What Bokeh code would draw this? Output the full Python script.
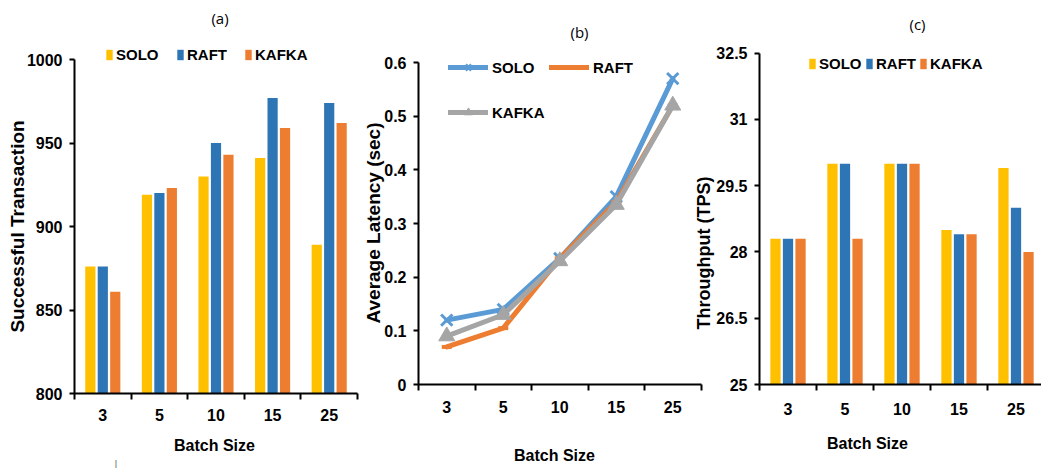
import math
from bokeh.plotting import figure
from bokeh.models import Range1d, FixedTicker, Legend, LegendItem, Label, LinearAxis
from bokeh.embed import file_html
from bokeh.resources import INLINE

# ---------------- data ----------------
categories = ["3", "5", "10", "15", "25"]
series_names = ["SOLO", "RAFT", "KAFKA"]

tx_solo = [876, 919, 930, 941, 889]
tx_raft = [876, 920, 950, 977, 974]
tx_kafka = [861, 923, 943, 959, 962]

lat_solo = [0.12, 0.14, 0.235, 0.35, 0.57]
lat_raft = [0.07, 0.105, 0.235, 0.34, 0.52]
lat_kafka = [0.09, 0.13, 0.23, 0.335, 0.52]

tps_solo = [28.3, 30.0, 30.0, 28.5, 29.9]
tps_raft = [28.3, 30.0, 30.0, 28.4, 29.0]
tps_kafka = [28.3, 28.3, 30.0, 28.4, 28.0]

tx_ticks = [800, 850, 900, 950, 1000]
tx_tick_labels = ["800", "850", "900", "950", "1000"]
lat_ticks = [0, 0.1, 0.2, 0.3, 0.4, 0.5, 0.6]
lat_tick_labels = ["0", "0.1", "0.2", "0.3", "0.4", "0.5", "0.6"]
tps_ticks = [25, 26.5, 28, 29.5, 31, 32.5]
tps_tick_labels = ["25", "26.5", "28", "29.5", "31", "32.5"]

# ---------------- style ----------------
FONT = "Liberation Sans"
TFONT = "Open Sans"
BAR_COLORS = ["#FFC000", "#2E75B6", "#ED7D31"]
LINE_COLORS = ["#5B9BD5", "#ED7D31", "#A5A5A5"]
W, H = 1041, 468
N = len(categories)


def lin_range(v0, px0, v1, px1, total):
    k = (v1 - v0) / (px1 - px0)
    start = v0 - px0 * k
    return Range1d(start=start, end=start + total * k)


p = figure(width=W, height=H, x_range=Range1d(0, W), y_range=Range1d(0, H),
           output_backend="svg", toolbar_location=None,
           x_axis_location=None, y_axis_location=None, min_border=0)
p.outline_line_color = None
p.grid.visible = False
p.background_fill_color = "white"
p.border_fill_color = "white"

# pixel placement of each small chart's plot area
p.extra_x_ranges = {
    "xa": lin_range(0, 74, N, 357, W),
    "xb": lin_range(0, 418, N, 700.5, W),
    "xc": lin_range(0, 759, N, 1044, W),
}
p.extra_y_ranges = {
    "ya": lin_range(tx_ticks[0], H - 393, tx_ticks[-1], H - 59, H),
    "yb": lin_range(lat_ticks[0], H - 384, lat_ticks[-1], H - 62, H),
    "yc": lin_range(tps_ticks[0], H - 384, tps_ticks[-1], H - 52.7, H),
}


def add_axes(xr, yr, ticks, tick_labels, xstand):
    xa = LinearAxis(x_range_name=xr, y_range_name=yr, fixed_location=ticks[0],
                    bounds=(0, N),
                    ticker=FixedTicker(ticks=[i + 0.5 for i in range(N)],
                                       minor_ticks=list(range(N + 1))))
    xa.major_label_overrides = {i + 0.5: c for i, c in enumerate(categories)}
    xa.major_tick_out = 0
    xa.major_tick_in = 0
    xa.minor_tick_out = 6
    xa.minor_tick_in = 0
    xa.minor_tick_line_width = 2
    xa.minor_tick_line_color = "black"
    xa.axis_line_width = 2
    xa.axis_line_color = "black"
    xa.major_label_standoff = xstand
    xa.major_label_text_font = FONT
    xa.major_label_text_font_style = "bold"
    xa.major_label_text_font_size = "16px"
    xa.major_label_text_color = "black"
    p.add_layout(xa, "below")
    ya = LinearAxis(x_range_name=xr, y_range_name=yr, fixed_location=0,
                    bounds=(ticks[0], ticks[-1]), ticker=FixedTicker(ticks=ticks))
    ya.major_label_overrides = {t: l for t, l in zip(ticks, tick_labels)}
    ya.major_tick_out = 5
    ya.major_tick_in = 0
    ya.minor_tick_out = 0
    ya.minor_tick_in = 0
    ya.major_tick_line_width = 2
    ya.major_tick_line_color = "black"
    ya.axis_line_width = 2
    ya.axis_line_color = "black"
    ya.major_label_standoff = 7
    ya.major_label_text_font = FONT
    ya.major_label_text_font_style = "bold"
    ya.major_label_text_font_size = "16px"
    ya.major_label_text_color = "black"
    p.add_layout(ya, "left")


def add_text(x, y, text, size, bold=True, angle=0.0, font=FONT, color="black"):
    p.add_layout(Label(x=x, y=H - y, text=text, text_font=font, text_font_size=size,
                       text_font_style="bold" if bold else "normal",
                       text_color=color, text_align="center",
                       text_baseline="middle", angle=angle))


def add_legend_item(left, cy, label, renderers, gw, gh, standoff):
    lg = Legend(items=[LegendItem(label=label, renderers=renderers)],
                location=(left, H - (cy + 10)),
                orientation="horizontal", padding=0, margin=0, spacing=0,
                glyph_width=gw, glyph_height=gh, label_height=20,
                label_standoff=standoff,
                label_text_font=FONT, label_text_font_style="bold",
                label_text_font_size="15px", label_text_color="black",
                border_line_alpha=0, background_fill_alpha=0)
    p.add_layout(lg, "center")


offsets = [-0.22, 0.0, 0.22]
BAR_W = 0.18

# ---------------- (a) successful transactions ----------------
add_axes("xa", "ya", tx_ticks, tx_tick_labels, 9)
bars_a = []
for vals, off, col in zip([tx_solo, tx_raft, tx_kafka], offsets, BAR_COLORS):
    r = p.vbar(x=[i + 0.5 + off for i in range(N)], top=vals, bottom=tx_ticks[0],
               width=BAR_W, fill_color=col, line_color=None,
               x_range_name="xa", y_range_name="ya")
    bars_a.append(r)
for r, name, lx in zip(bars_a, series_names, [105, 176, 244]):
    add_legend_item(lx, 54.5, name, [r], 8, 13, 3)
add_text(219.5, 17, "(a)", "15px", bold=False, font=TFONT)
add_text(17, 226, "Successful Transaction", "19px", angle=math.pi / 2)
add_text(214, 445, "Batch Size", "16px")
add_text(115.5, 463, "|", "9px", bold=False, color="#555555")

# ---------------- (b) average latency ----------------
add_axes("xb", "yb", lat_ticks, lat_tick_labels, 10)
xs = [i + 0.5 for i in range(N)]
l1 = p.line(xs, lat_solo, line_color=LINE_COLORS[0], line_width=5, line_join="round",
            line_cap="round", x_range_name="xb", y_range_name="yb")
m1 = p.scatter(xs, lat_solo, marker="x", size=16, line_color=LINE_COLORS[0], line_width=3,
               x_range_name="xb", y_range_name="yb")
l2 = p.line(xs, lat_raft, line_color=LINE_COLORS[1], line_width=5, line_join="round",
            line_cap="round", x_range_name="xb", y_range_name="yb")
m2 = p.scatter(xs, lat_raft, marker="dash", size=10, line_color=LINE_COLORS[1], line_width=4,
               x_range_name="xb", y_range_name="yb")
l3 = p.line(xs, lat_kafka, line_color=LINE_COLORS[2], line_width=5, line_join="round",
            line_cap="round", x_range_name="xb", y_range_name="yb")
m3 = p.scatter(xs, lat_kafka, marker="triangle", size=16, fill_color=LINE_COLORS[2],
               line_color=LINE_COLORS[2], x_range_name="xb", y_range_name="yb")
add_legend_item(448, 67, "SOLO", [l1, m1], 40, 20, 4)
add_legend_item(549, 67, "RAFT", [l2], 40, 20, 4)
add_legend_item(448, 112, "KAFKA", [l3, m3], 40, 20, 4)
add_text(579, 31, "(b)", "15px", bold=False, font=TFONT)
add_text(373, 222.5, "Average Latency (sec)", "19px", angle=math.pi / 2)
add_text(554, 455, "Batch Size", "16px")

# ---------------- (c) throughput ----------------
add_axes("xc", "yc", tps_ticks, tps_tick_labels, 12)
bars_c = []
for vals, off, col in zip([tps_solo, tps_raft, tps_kafka], offsets, BAR_COLORS):
    r = p.vbar(x=[i + 0.5 + off for i in range(N)], top=vals, bottom=tps_ticks[0],
               width=BAR_W, fill_color=col, line_color=None,
               x_range_name="xc", y_range_name="yc")
    bars_c.append(r)
for r, name, lx in zip(bars_c, series_names, [808, 865, 919]):
    add_legend_item(lx, 63.5, name, [r], 8, 13, 3)
add_text(917, 23.5, "(c)", "15px", bold=False, font=TFONT)
add_text(703.5, 252.5, "Throughput (TPS)", "18px", angle=math.pi / 2)
add_text(867, 443, "Batch Size", "16px")

open("out.html", "w").write(file_html(p, INLINE))
